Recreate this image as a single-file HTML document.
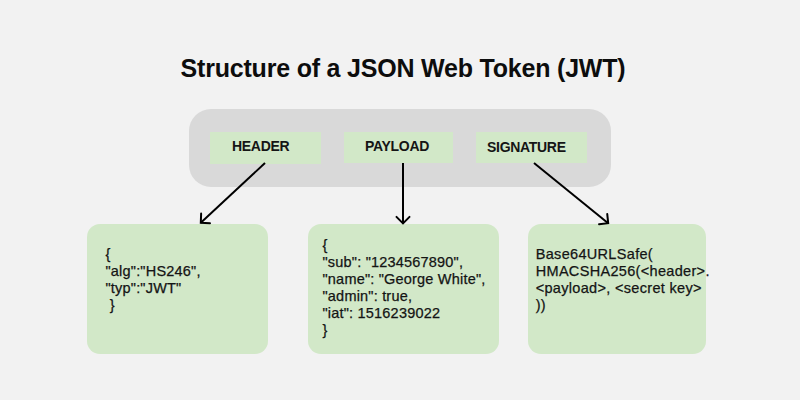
<!DOCTYPE html>
<html><head><meta charset="utf-8">
<style>
html,body{margin:0;padding:0;}
body{width:800px;height:400px;background:#f2f2f2;position:relative;overflow:hidden;font-family:"Liberation Sans",sans-serif;color:#111;}
.abs{position:absolute;}
#title{left:0;width:806px;top:54px;text-align:center;font-weight:bold;font-size:25px;line-height:28px;letter-spacing:-0.2px;color:#0d0d0d;}
#bar{left:189px;top:109px;width:422px;height:78px;background:#d9d9d9;border-radius:22px;}
.lab{background:#d2e8c8;height:31px;}
.lt{font-weight:bold;font-size:14px;line-height:16px;letter-spacing:-0.3px;color:#151515;white-space:pre;}
.card{background:#d2e8c8;border-radius:13px;top:224px;height:130px;}
.txt{font-size:14.5px;line-height:17px;letter-spacing:0.2px;white-space:pre;color:#141414;-webkit-text-stroke:0.25px #141414;}
svg{position:absolute;left:0;top:0;}
</style></head><body>
<div id="title" class="abs">Structure of a JSON Web Token (JWT)</div>
<div id="bar" class="abs"></div>
<div class="abs lab" style="left:210px;top:132px;width:111px;height:32px;"></div>
<div class="abs lt" style="left:232px;top:138px;">HEADER</div>
<div class="abs lab" style="left:344px;top:132px;width:109px;"></div>
<div class="abs lt" style="left:365px;top:138px;">PAYLOAD</div>
<div class="abs lab" style="left:476px;top:132px;width:111px;"></div>
<div class="abs lt" style="left:487px;top:139px;">SIGNATURE</div>

<div class="abs card" style="left:87px;width:181px;"></div>
<div class="abs card" style="left:308px;width:191px;"></div>
<div class="abs card" style="left:528px;width:178px;"></div>

<div class="abs txt" style="left:105.5px;top:246.3px;">{
"alg":"HS246",
"typ":"JWT"
 }</div>
<div class="abs txt" style="left:322.5px;top:236.7px;">{
"sub": "1234567890",
"name": "George White",
"admin": true,
"iat": 1516239022
}</div>
<div class="abs txt" style="left:535.7px;top:246px;letter-spacing:0.32px;">Base64URLSafe(
HMACSHA256(&lt;header&gt;.
&lt;payload&gt;, &lt;secret key&gt;
))</div>

<svg width="800" height="400" viewBox="0 0 800 400">
<g stroke="#000" stroke-width="2" fill="none" stroke-linecap="round" stroke-linejoin="miter">
<line x1="265" y1="163" x2="200.80" y2="222.80" stroke-linecap="butt"/>
<polyline points="201.13,213.61 200.80,222.80 209.99,223.13"/>
<line x1="403" y1="163" x2="403.00" y2="223.40" stroke-linecap="butt"/>
<polyline points="396.49,216.89 403.00,223.40 409.51,216.89"/>
<line x1="534" y1="163" x2="608.20" y2="223.20" stroke-linecap="butt"/>
<polyline points="599.05,224.15 608.20,223.20 607.25,214.05"/>
</g>
</svg>
</body></html>
